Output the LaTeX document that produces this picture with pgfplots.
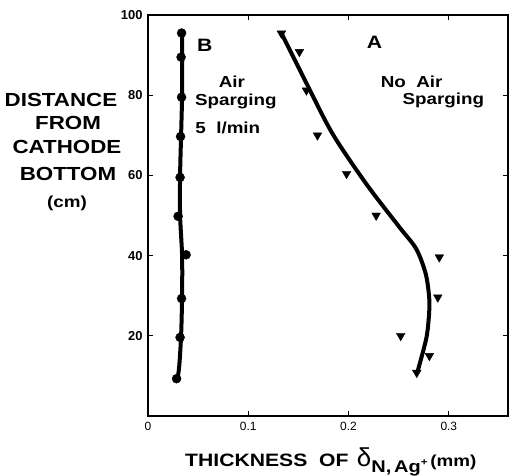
\documentclass[border=0pt]{standalone}
\usepackage{fontspec}
\setmainfont{Liberation Sans}
\newfontfamily\wide[FakeStretch=1.18]{Liberation Sans}
\usepackage{pgfplots}
\pgfplotsset{compat=1.18}
\begin{document}
\begin{tikzpicture}
\begin{axis}[
 scale only axis, width=360bp, height=401bp,
 at={(0,0)}, anchor=south west,
 xmin=0, xmax=0.359, ymin=0, ymax=100,
 xtick={0,0.1,0.2,0.3}, xticklabels={0,0.1,0.2,0.3},
 ytick={20,40,60,80,100},
 tick align=inside, major tick length=5bp,
 axis line style={line width=1.3bp},
 tick style={line width=1bp, black},
 /pgf/number format/assume math mode=true,
 xticklabel style={font=\fontsize{12}{12}\selectfont, yshift=-3bp},
 yticklabel style={font=\bfseries\fontsize{13}{13}\selectfont, xshift=-2bp},
 clip=false,
]
% B: air sparging 5 l/min
\addplot[line width=4bp, smooth] coordinates {
 (0.034,95.5) (0.034,89) (0.034,80) (0.033,70) (0.032,60) (0.032,50)
 (0.034,40) (0.034,30) (0.033,20) (0.031,12) (0.029,9)};
\addplot[only marks, mark=*, mark size=4.5bp] coordinates {
 (0.0335,95.5) (0.033,89.5) (0.0335,79.5) (0.0325,69.7) (0.032,59.5)
 (0.030,49.8) (0.038,40.2) (0.0335,29.3) (0.032,19.6) (0.0285,9.3)};
% A: no air sparging
\addplot[line width=4bp, smooth] coordinates {
 (0.133,95.5) (0.158,83) (0.184,70.4) (0.2176,57.9) (0.2507,47.1)
 (0.2674,41.7) (0.277,35.4) (0.2806,28.75) (0.2795,23) (0.277,18.75) (0.269,11.25)};
\addplot[only marks, mark=triangle*, mark size=5bp, mark options={rotate=180}] coordinates {
 (0.133,95.4) (0.151,90.8) (0.158,81.2) (0.169,70) (0.198,60.4) (0.2275,50)
 (0.2905,39.6) (0.289,29.6) (0.252,20) (0.2806,15) (0.268,10.8)};
\node[font=\wide\bfseries\fontsize{18}{18}\selectfont] at (axis cs:0.0567,92.5) {B};
\node[font=\wide\bfseries\fontsize{18}{18}\selectfont] at (axis cs:0.226,93.25) {A};
\node[font=\wide\bfseries\fontsize{16}{16}\selectfont] at (axis cs:0.0836,83.25) {Air};
\node[font=\wide\bfseries\fontsize{16}{16}\selectfont] at (axis cs:0.0876,78.5) {Sparging};
\node[font=\wide\bfseries\fontsize{16}{16}\selectfont] at (axis cs:0.0796,71.75) {5\ \ l/min};
\node[font=\wide\bfseries\fontsize{16}{16}\selectfont] at (axis cs:0.263,83.25) {No\ \ Air};
\node[font=\wide\bfseries\fontsize{16}{16}\selectfont] at (axis cs:0.2945,78.75) {Sparging};
\end{axis}
% y label
\begin{scope}[every node/.style={font=\wide\bfseries\fontsize{19}{19}\selectfont, anchor=base, inner sep=0pt}]
\node at (-87bp,309bp) {DISTANCE};
\node at (-80bp,286bp) {FROM};
\node at (-81bp,262bp) {CATHODE};
\node at (-80bp,235bp) {BOTTOM};
\node[font=\wide\bfseries\fontsize{16}{16}\selectfont] at (-81bp,208bp) {(cm)};
\end{scope}
% x label
\node[anchor=base west, inner sep=0pt] at (37bp,-50bp) {{\wide\bfseries\fontsize{18}{18}\selectfont THICKNESS\ \ OF}\ \ \ {\fontsize{26}{26}\selectfont δ}\raisebox{-6bp}{\wide\bfseries\fontsize{17}{17}\selectfont N,\,Ag\raisebox{7bp}{\fontsize{10}{10}\selectfont +}}\ {\wide\bfseries\fontsize{16}{16}\selectfont (mm)}};
\pgfresetboundingbox
\path (-148bp,-60bp) rectangle (364bp,416bp);
\end{tikzpicture}
\end{document}
